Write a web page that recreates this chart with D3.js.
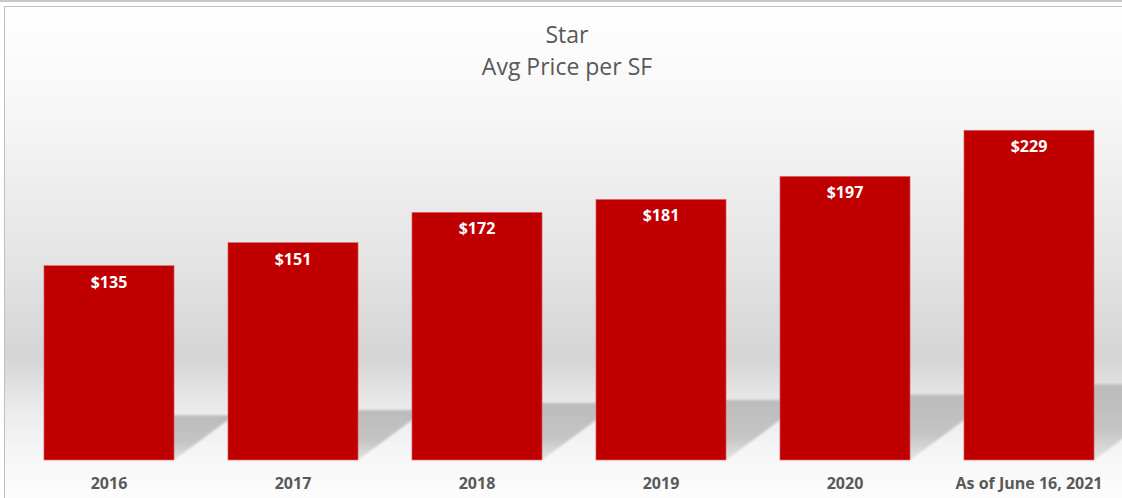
<!DOCTYPE html>
<html>
<head>
<meta charset="utf-8">
<script src="https://cdn.jsdelivr.net/npm/d3@7"></script>
<style>
  body { margin: 0; background: #fff; }
  svg { display: block; font-family: "Open Sans", sans-serif; }
</style>
</head>
<body>
<div id="chart"></div>
<script>
const categories = ["2016", "2017", "2018", "2019", "2020", "As of June 16, 2021"];
const prices = [135, 151, 172, 181, 197, 229];
const titleLines = ["Star", "Avg Price per SF"];

const W = 1122, H = 498;
const svg = d3.select("#chart").append("svg")
    .attr("width", W)
    .attr("height", H);

const defs = svg.append("defs");

// background gradient: white -> gray band -> white
const bg = defs.append("linearGradient")
    .attr("id", "bg")
    .attr("x1", 0).attr("y1", 0).attr("x2", 0).attr("y2", 1);
[[0, "#ffffff"], [0.2, "#f7f7f7"], [0.5, "#e4e4e4"], [0.69, "#d5d5d5"], [0.8, "#ececec"], [0.88, "#f6f6f6"], [1, "#ffffff"]]
    .forEach(s => bg.append("stop").attr("offset", s[0]).attr("stop-color", s[1]));

const sg = defs.append("linearGradient")
    .attr("id", "shade")
    .attr("x1", 0).attr("y1", 0).attr("x2", 0).attr("y2", 1);
sg.append("stop").attr("offset", 0).attr("stop-color", "#bcbcbc");
sg.append("stop").attr("offset", 0.6).attr("stop-color", "#c4c4c4");
sg.append("stop").attr("offset", 1).attr("stop-color", "#e4e4e4");

defs.append("filter").attr("id", "blur")
    .append("feGaussianBlur").attr("stdDeviation", 1.3);

// outer frame
svg.append("line")
    .attr("x1", 0).attr("x2", W).attr("y1", 1).attr("y2", 1)
    .attr("stroke", "#c8c8c8").attr("stroke-width", 2);

svg.append("rect")
    .attr("x", 4.5).attr("y", 6.5)
    .attr("width", W + 10).attr("height", H + 10)
    .attr("fill", "url(#bg)")
    .attr("stroke", "#bfbfbf");

const x = d3.scaleBand()
    .domain(categories)
    .range([17, 1121])
    .paddingInner(0.293)
    .paddingOuter(0.1465);

const y = d3.scaleLinear()
    .domain([0, 250])
    .range([460, 100]);

// perspective shadows behind bars
svg.append("g")
    .attr("filter", "url(#blur)")
    .selectAll("path")
    .data(prices)
    .join("path")
    .attr("d", (d, i) => {
        const x0 = x(categories[i]), x1 = x0 + x.bandwidth();
        const h = (y(0) - y(d)) * 0.23;
        const dx = h * 1.35;
        return `M${x0},${y(0)}L${x1},${y(0)}L${x1 + dx},${y(0) - h}L${x0 + dx},${y(0) - h}Z`;
    })
    .attr("fill", "url(#shade)");

// bars
svg.append("g")
    .selectAll("rect")
    .data(prices)
    .join("rect")
    .attr("x", (d, i) => x(categories[i]))
    .attr("y", d => y(d))
    .attr("width", x.bandwidth())
    .attr("height", d => y(0) - y(d))
    .attr("fill", "#c00000")
    .attr("stroke", "#e07070")
    .attr("stroke-width", 0.6);

// value labels
svg.append("g")
    .selectAll("text")
    .data(prices)
    .join("text")
    .attr("x", (d, i) => x(categories[i]) + x.bandwidth() / 2)
    .attr("y", d => y(d) + 22)
    .attr("text-anchor", "middle")
    .attr("fill", "#ffffff")
    .attr("font-weight", "bold")
    .attr("font-size", 16)
    .text(d => "$" + d);

// category axis
const xAxis = svg.append("g")
    .attr("transform", `translate(0, ${y(0)})`)
    .call(d3.axisBottom(x).tickSize(0).tickPadding(18));
xAxis.select(".domain").remove();
xAxis.selectAll("text")
    .attr("font-family", "Open Sans, sans-serif")
    .attr("font-size", 16)
    .attr("font-weight", "bold")
    .attr("fill", "#595959");

// title
svg.append("g")
    .selectAll("text")
    .data(titleLines)
    .join("text")
    .attr("x", 567)
    .attr("y", (d, i) => 43 + i * 32)
    .attr("text-anchor", "middle")
    .attr("fill", "#595959")
    .attr("font-size", 23)
    .text(d => d);
</script>
</body>
</html>
